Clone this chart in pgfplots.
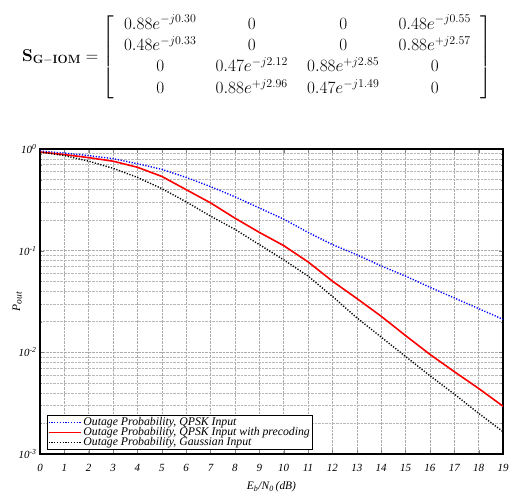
\documentclass[border=0pt]{standalone}
\usepackage[no-math]{fontspec}
\usepackage{amsmath}
\usepackage{pgfplots}
\usepackage{pgfplotstable}
\pgfplotsset{compat=1.18}
\newfontfamily\tnr{Liberation Serif}

% Outage probabilities (log10 values) against Eb/N0 in dB
\pgfplotstableread{
snr  qpsk    prec    gauss
0    -0.020  -0.030  -0.030
1    -0.040  -0.055  -0.065
2    -0.065  -0.085  -0.120
3    -0.095  -0.120  -0.190
4    -0.145  -0.180  -0.280
5    -0.200  -0.270  -0.390
6    -0.280  -0.400  -0.520
7    -0.370  -0.530  -0.660
8    -0.470  -0.680  -0.790
9    -0.580  -0.820  -0.940
10   -0.690  -0.950  -1.090
11   -0.820  -1.110  -1.250
12   -0.940  -1.300  -1.450
13   -1.040  -1.470  -1.660
14   -1.150  -1.645  -1.850
15   -1.250  -1.835  -2.040
16   -1.360  -2.020  -2.230
17   -1.465  -2.190  -2.410
18   -1.570  -2.355  -2.600
19   -1.675  -2.530  -2.780
}\outage

\begin{document}
\begin{tikzpicture}
\useasboundingbox (-40bp,-44bp) rectangle (472bp,454bp);
\begin{semilogyaxis}[
  scale only axis,
  width=463bp, height=305bp,
  xmin=0, xmax=19, ymin=1e-3, ymax=1,
  xtick={0,1,...,19},
  xticklabels={0,1,2,3,4,5,6,7,8,9,10,11,12,13,14,15,16,17,18,19},
  ytick={1e-3,1e-2,1e-1,1},
  yticklabels={10\textsuperscript{-3},10\textsuperscript{-2},10\textsuperscript{-1},10\textsuperscript{0}},
  tick label style={font=\fontsize{11}{12}\selectfont\tnr\itshape},
  xticklabel style={yshift=-7bp},
  grid=both,
  major grid style={densely dotted, gray!65, line width=0.5bp},
  minor grid style={densely dotted, gray!55, line width=0.5bp},
  axis line style={line width=1.1bp},
  major tick length=4bp, minor tick length=2.5bp,
  xlabel={E\textsubscript{b}/N\textsubscript{0}\,(dB)},
  ylabel={P\raisebox{-0.3ex}{\fontsize{9.5}{10}\selectfont out}},
  label style={font=\fontsize{11.5}{12}\selectfont\tnr\itshape},
  xlabel style={yshift=-3bp},
  ylabel style={yshift=-10bp},
  legend cell align=left,
  legend style={
    at={(axis description cs:0.015,0.013)}, anchor=south west,
    font=\fontsize{11.8}{12}\selectfont\tnr\itshape,
    draw=black, line width=0.8bp,
    inner sep=0.5bp, row sep=-3.8bp,
  },
  legend image code/.code={\draw[#1] (0bp,0bp) -- (32bp,0bp);},
]
\addplot[blue, line width=1.4bp, dash pattern=on 1.2bp off 1.6bp]
  table[x=snr, y expr=10^(\thisrow{qpsk})] {\outage};
\addlegendentry{Outage Probability, QPSK Input}
\addplot[red, line width=1.6bp]
  table[x=snr, y expr=10^(\thisrow{prec})] {\outage};
\addlegendentry{Outage Probability, QPSK Input with precoding}
\addplot[black, line width=1.4bp, dash pattern=on 1.2bp off 1.6bp]
  table[x=snr, y expr=10^(\thisrow{gauss})] {\outage};
\addlegendentry{Outage Probability, Gaussian Input}
\end{semilogyaxis}

% Scattering matrix of the G-IOM
\node[font=\fontsize{16.6}{19.5}\selectfont, inner sep=0pt] at (217bp,397bp) {%
  \renewcommand{\arraystretch}{1.1}%
  \setlength{\arraycolsep}{9.6bp}%
  $\mathbf{S}_{\mathbf{G-IOM}} = \left[\begin{array}{cccc}
    0.88e^{-j0.30} & 0 & 0 & 0.48e^{-j0.55}\\
    0.48e^{-j0.33} & 0 & 0 & 0.88e^{+j2.57}\\
    0 & 0.47e^{-j2.12} & 0.88e^{+j2.85} & 0\\
    0 & 0.88e^{+j2.96} & 0.47e^{-j1.49} & 0
  \end{array}\right]$};
\end{tikzpicture}
\end{document}
